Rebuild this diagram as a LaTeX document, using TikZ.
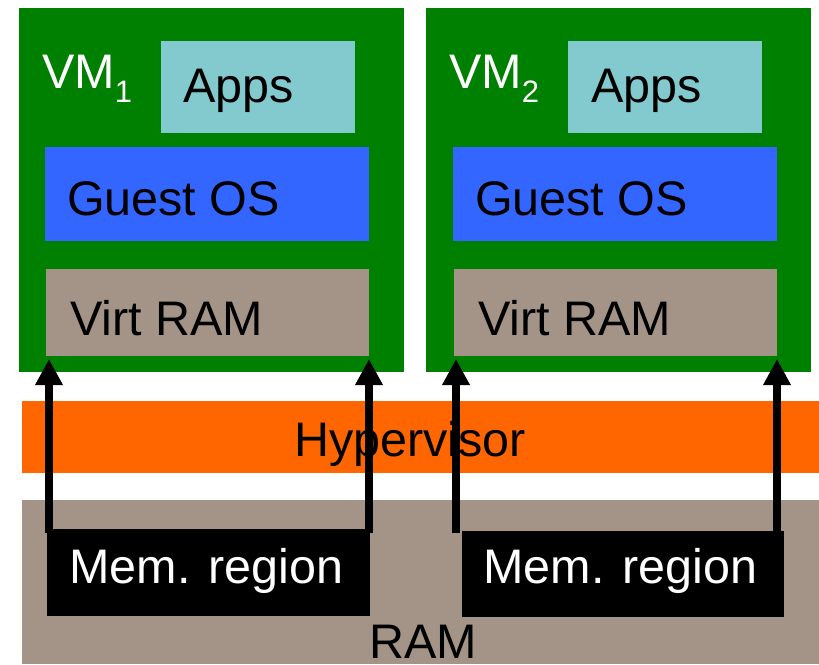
\documentclass[tikz,border=0pt]{standalone}
\usepackage{fontspec}
\setmainfont{Liberation Sans}
\usetikzlibrary{arrows.meta}
\definecolor{vmgreen}{RGB}{0,128,0}
\definecolor{appsc}{RGB}{130,202,206}
\definecolor{osblue}{RGB}{51,102,255}
\definecolor{ramgray}{RGB}{164,148,135}
\definecolor{hvorange}{RGB}{255,102,0}
\begin{document}
\begin{tikzpicture}[x=1pt,y=-1pt,
  box/.style={draw=none,inner sep=0pt,outer sep=0pt,anchor=north west},
  lbl/.style={inner sep=0pt,outer sep=0pt,anchor=base west,font=\fontsize{48.5}{50}\selectfont},
  memarrow/.style={line width=8pt,-{Triangle[width=26pt,length=26pt]}}]
\useasboundingbox (0,0) rectangle (819,664);
% VMs
\node[box,fill=vmgreen,minimum width=385pt,minimum height=364pt] (vm1) at (19,8) {};
\node[box,fill=vmgreen,minimum width=385pt,minimum height=364pt] (vm2) at (426,8) {};
\node[box,fill=appsc,minimum width=194pt,minimum height=92pt] (apps1) at (161,41) {};
\node[box,fill=appsc,minimum width=194pt,minimum height=92pt] (apps2) at (568,41) {};
\node[box,fill=osblue,minimum width=324pt,minimum height=94pt] (os1) at (45,147) {};
\node[box,fill=osblue,minimum width=324pt,minimum height=94pt] (os2) at (453,147) {};
\node[box,fill=ramgray,minimum width=323pt,minimum height=87pt] (vr1) at (46,269) {};
\node[box,fill=ramgray,minimum width=323pt,minimum height=87pt] (vr2) at (454,269) {};
% Hypervisor and RAM
\node[box,fill=hvorange,minimum width=797pt,minimum height=72pt] (hv) at (22,401) {};
\node[box,fill=ramgray,minimum width=797pt,minimum height=164pt] (ram) at (22,500) {};
\node[box,fill=black,minimum width=323pt,minimum height=87pt] (mem1) at (47,529) {};
\node[box,fill=black,minimum width=322pt,minimum height=86pt] (mem2) at (462,531) {};
% labels
\node[lbl,text=white] (vm1l) at (42,88) {VM\raisebox{-14pt}{\fontsize{31}{31}\selectfont 1}};
\node[lbl,text=white] (vm2l) at (449,88) {VM\raisebox{-14pt}{\fontsize{31}{31}\selectfont 2}};
\node[lbl] (apps1l) at (183,102) {Apps};
\node[lbl] (apps2l) at (591,102) {Apps};
\node[lbl] (os1l) at (67,215) {Guest OS};
\node[lbl] (os2l) at (475,215) {Guest OS};
\node[lbl] (vr1l) at (70,335) {Virt RAM};
\node[lbl] (vr2l) at (478,335) {Virt RAM};
\node[lbl] (hvl) at (294,456) {Hypervisor};
\node[lbl] (raml) at (369,658) {RAM};
\node[lbl,text=white] (mem1l) at (69.5,583) {Mem. region};
\node[lbl,text=white] (mem2l) at (483.5,583) {Mem. region};
% arrows
\coordinate (a1s) at (49,533);  \coordinate (a1t) at (49,359);
\coordinate (a2s) at (369,533); \coordinate (a2t) at (369,359);
\coordinate (a3s) at (456,533); \coordinate (a3t) at (456,359);
\coordinate (a4s) at (777,533); \coordinate (a4t) at (777,359);
\draw[memarrow] (a1s) -- (a1t);
\draw[memarrow] (a2s) -- (a2t);
\draw[memarrow] (a3s) -- (a3t);
\draw[memarrow] (a4s) -- (a4t);
\end{tikzpicture}
\end{document}
